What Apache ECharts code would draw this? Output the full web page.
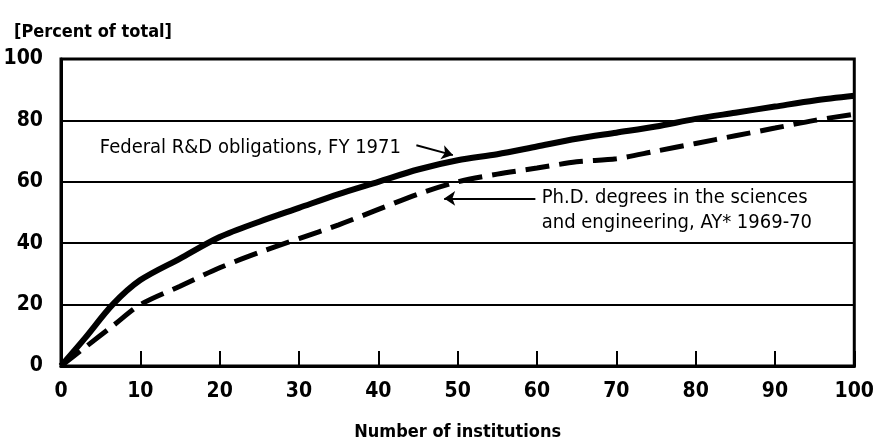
<!DOCTYPE html>
<html>
<head>
<meta charset="utf-8">
<script src="https://cdn.jsdelivr.net/npm/echarts@6/dist/echarts.min.js"></script>
<style>
  html, body { margin: 0; padding: 0; background: #fff; }
  #chart { width: 877px; height: 446px; }
</style>
</head>
<body>
<div id="chart"></div>
<script>
// number of institutions (ranked) and cumulative percent of total
const institutions = [0, 3, 6.5, 10, 15, 20, 25, 30, 35, 40, 45, 50, 55, 60, 65, 70, 75, 80, 85, 90, 95, 100]
const federalRD = [0, 9, 20, 28, 35, 42, 47, 51.5, 56, 60, 64, 67, 69, 71.5, 74, 76, 78, 80.5, 82.5, 84.5, 86.5, 88]
const phdDegrees = [0, 6, 13, 20, 26, 32, 37, 41.5, 46, 51, 56, 60, 62.5, 64.5, 66.5, 67.5, 70, 72.5, 75, 77.5, 80, 82]
const yTicks = [0, 20, 40, 60, 80, 100]
const xTicks = [0, 10, 20, 30, 40, 50, 60, 70, 80, 90, 100]

const FONT = '"DejaVu Sans Condensed", "DejaVu Sans", sans-serif'

const chart = echarts.init(document.getElementById('chart'))

const pairs = (xs, ys) => xs.map((x, i) => [x, ys[i]])

const option = {
  animation: false,
  title: {
    text: '[Percent of total]',
    left: 9,
    top: 18,
    textStyle: { fontFamily: FONT, fontWeight: 'bold', fontSize: 18, color: '#000' }
  },
  grid: {
    left: 61, right: 14, top: 59, bottom: 73,
    show: true,
    borderColor: '#000',
    borderWidth: 3
  },
  xAxis: {
    type: 'value',
    min: 0,
    max: 100,
    interval: 10,
    name: 'Number of institutions',
    nameLocation: 'middle',
    nameGap: 57,
    nameTextStyle: { fontFamily: FONT, fontWeight: 'bold', fontSize: 18, color: '#000' },
    axisLine: { lineStyle: { color: '#000', width: 3 } },
    axisTick: { inside: true, length: 15, lineStyle: { color: '#000', width: 2 } },
    axisLabel: {
      margin: 15,
      fontFamily: FONT, fontWeight: 'bold', fontSize: 21, color: '#000',
      formatter: v => xTicks.includes(v) ? String(v) : ''
    },
    splitLine: { show: false }
  },
  yAxis: {
    type: 'value',
    min: 0,
    max: 100,
    interval: 20,
    axisLine: { show: true, lineStyle: { color: '#000', width: 3 } },
    axisTick: { show: false },
    axisLabel: {
      margin: 18,
      fontFamily: FONT, fontWeight: 'bold', fontSize: 21, color: '#000',
      formatter: v => yTicks.includes(v) ? String(v) : ''
    },
    splitLine: { lineStyle: { color: '#000', width: 2 } }
  },
  series: [
    {
      name: 'Federal R&D obligations, FY 1971',
      type: 'line',
      smooth: 0.3,
      symbol: 'none',
      data: pairs(institutions, federalRD),
      lineStyle: { color: '#000', width: 6 },
      z: 3,
      markLine: {
        silent: true,
        symbol: ['none', 'arrow'],
        symbolSize: 11,
        label: { show: false },
        lineStyle: { color: '#000', width: 2, type: 'solid' },
        data: [[{ coord: [44.8, 71.9] }, { coord: [49.4, 68.7] }]]
      }
    },
    {
      name: 'Ph.D. degrees in the sciences and engineering, AY* 1969-70',
      type: 'line',
      smooth: 0.3,
      symbol: 'none',
      data: pairs(institutions, phdDegrees),
      lineStyle: { color: '#000', width: 5, type: [24, 10] },
      z: 2,
      markLine: {
        silent: true,
        symbol: ['none', 'arrow'],
        symbolSize: 11,
        label: { show: false },
        lineStyle: { color: '#000', width: 2, type: 'solid' },
        data: [[{ coord: [59.8, 54.6] }, { coord: [48.3, 54.6] }]]
      }
    }
  ]
}

chart.setOption(option)

// annotation texts placed in data coordinates
const p1 = chart.convertToPixel({ gridIndex: 0 }, [4.9, 71.1])
const p2 = chart.convertToPixel({ gridIndex: 0 }, [60.6, 54.9])
const p3 = chart.convertToPixel({ gridIndex: 0 }, [60.6, 46.6])
const noteStyle = { fontFamily: FONT, fontSize: 20, fill: '#000', textVerticalAlign: 'middle' }

chart.setOption({
  graphic: [
    { type: 'text', x: p1[0], y: p1[1], style: { ...noteStyle, text: 'Federal R&D obligations, FY 1971' } },
    { type: 'text', x: p2[0], y: p2[1], style: { ...noteStyle, text: 'Ph.D. degrees in the sciences' } },
    { type: 'text', x: p3[0], y: p3[1], style: { ...noteStyle, text: 'and engineering, AY* 1969-70' } }
  ]
})

window.addEventListener('resize', () => chart.resize())
</script>
</body>
</html>
